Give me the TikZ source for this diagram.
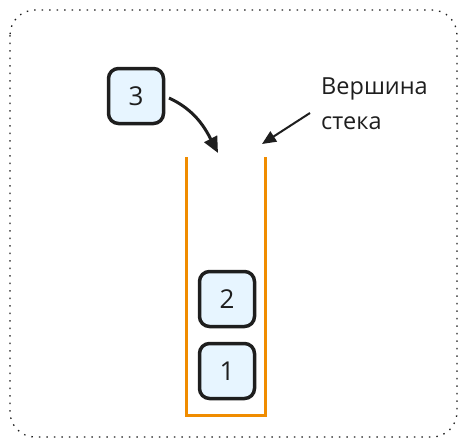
\documentclass[tikz,border=0pt]{standalone}
\usepackage{fontspec}
\setmainfont{Open Sans}
\usetikzlibrary{arrows.meta}
\definecolor{ink}{HTML}{1E1E1E}
\definecolor{boxfill}{HTML}{E7F5FF}
\definecolor{stackor}{HTML}{F08C00}
\begin{document}
\begin{tikzpicture}[x=1pt,y=-1pt,
  item/.style={draw=ink,fill=boxfill,line width=3.5pt,rounded corners=10pt,minimum width=55pt,minimum height=55pt,inner sep=0pt,font=\fontsize{26}{30}\selectfont,text=ink},
  stackline/.style={draw=stackor,line width=3pt},
  arr/.style={draw=ink,line width=3pt,-{Triangle[length=16pt,width=14pt]}}]
\useasboundingbox (0,0) rectangle (467,447);
\draw[ink,line width=1.3pt,dash pattern=on 1.5pt off 6pt,rounded corners=25pt] (10,10) rectangle (457,437);
\node[item] (n3) at (136,96) {3};
\node[item] (n2) at (227,299) {2};
\node[item] (n1) at (227,371) {1};
\coordinate (tl) at (186,157);
\coordinate (bl) at (186,415);
\coordinate (br) at (265,415);
\coordinate (tr) at (265,157);
\draw[stackline] (tl) -- (bl) -- (br) -- (tr);
\coordinate (a1e) at (218,153);
\coordinate (a2e) at (262,144);
\node[anchor=north west,align=left,inner sep=0pt,font=\fontsize{23.5}{35}\selectfont,text=ink] (lbl) at (321,78) {Вершина\\стека};
\coordinate (a2s) at (310,113);
\draw[arr] (169,98) .. controls (195,110) and (205,128) .. (a1e);
\draw[ink,line width=2pt,-{Triangle[length=14pt,width=12pt]}] (a2s) -- (a2e);
\end{tikzpicture}
\end{document}
